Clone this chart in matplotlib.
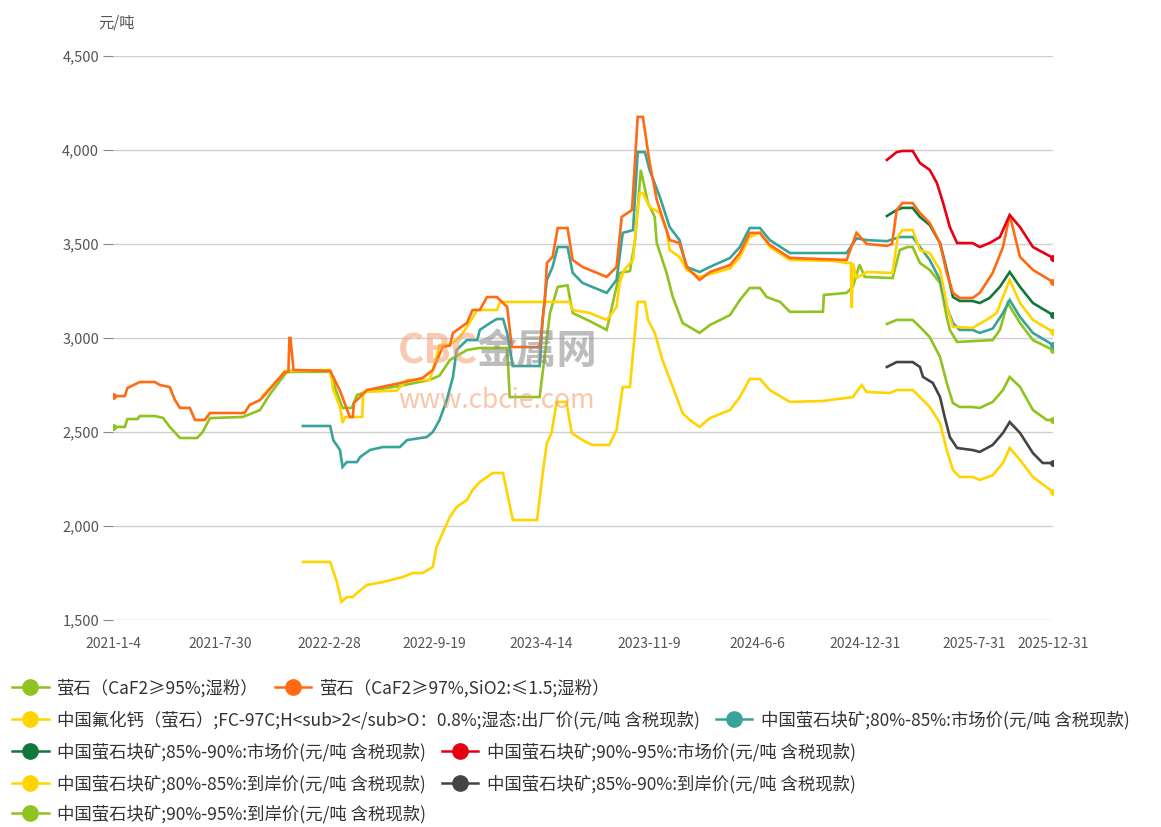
import matplotlib
matplotlib.use("Agg")
import matplotlib.pyplot as plt
from matplotlib.lines import Line2D
import pandas as pd

plt.rcParams['font.family'] = ['Noto Sans CJK SC', 'DejaVu Sans']

# ---- data ----
s1_dates = ['2021-01-04', '2021-01-27', '2021-02-01', '2021-02-21', '2021-02-25', '2021-03-26', '2021-04-11',
            '2021-04-24', '2021-05-14', '2021-06-16', '2021-06-27', '2021-07-11', '2021-09-13', '2021-10-16',
            '2021-11-04', '2021-11-23', '2021-12-07', '2022-03-01', '2022-03-14', '2022-03-25', '2022-04-12',
            '2022-04-22', '2022-05-17', '2022-07-14', '2022-09-10', '2022-09-29', '2022-10-19', '2022-11-21',
            '2022-12-16', '2023-02-07', '2023-02-12', '2023-04-11', '2023-05-01', '2023-05-16', '2023-06-04',
            '2023-06-14', '2023-07-17', '2023-08-19', '2023-09-13', '2023-10-03', '2023-10-13', '2023-10-24',
            '2023-11-07', '2023-11-20', '2023-11-24', '2023-12-13', '2023-12-25', '2024-01-13', '2024-02-15',
            '2024-03-06', '2024-04-14', '2024-05-03', '2024-05-22', '2024-06-11', '2024-06-24', '2024-07-20',
            '2024-08-08', '2024-10-11', '2024-10-13', '2024-11-26', '2024-12-08', '2024-12-21', '2024-12-31',
            '2025-02-23', '2025-03-09', '2025-03-24', '2025-04-03', '2025-04-17', '2025-05-06', '2025-05-26',
            '2025-06-08', '2025-06-14', '2025-06-28', '2025-09-05', '2025-09-19', '2025-10-04', '2025-10-28',
            '2025-11-22', '2025-12-31']
s1_vals = [2527, 2527, 2569, 2569, 2585, 2585, 2575, 2527, 2468, 2468, 2500, 2574, 2580, 2617, 2700, 2770,
           2820, 2820, 2707, 2628, 2628, 2697, 2720, 2745, 2777, 2800, 2883, 2936, 2947, 2947, 2686, 2686,
           3133, 3272, 3280, 3133, 3090, 3043, 3346, 3356, 3521, 3894, 3718, 3644, 3505, 3346, 3218, 3080,
           3027, 3069, 3122, 3202, 3266, 3266, 3218, 3192, 3139, 3140, 3229, 3240, 3272, 3390, 3325, 3319,
           3468, 3484, 3484, 3399, 3362, 3293, 3112, 3043, 2979, 2989, 3043, 3186, 3080, 2989, 2936]

s2_dates = ['2021-01-04', '2021-01-27', '2021-02-01', '2021-02-25', '2021-03-26', '2021-04-05', '2021-04-24',
            '2021-05-04', '2021-05-14', '2021-06-02', '2021-06-12', '2021-07-01', '2021-07-11', '2021-09-16',
            '2021-09-26', '2021-10-16', '2021-10-26', '2021-11-14', '2021-12-03', '2021-12-10', '2021-12-12',
            '2021-12-14', '2021-12-20', '2022-03-01', '2022-03-20', '2022-04-08', '2022-04-14', '2022-04-16',
            '2022-05-11', '2022-07-14', '2022-08-27', '2022-09-16', '2022-10-05', '2022-10-19', '2022-10-25',
            '2022-11-21', '2022-12-02', '2022-12-16', '2022-12-30', '2023-01-18', '2023-02-07', '2023-02-16',
            '2023-04-11', '2023-04-21', '2023-04-25', '2023-05-06', '2023-05-16', '2023-06-04', '2023-06-14',
            '2023-07-03', '2023-08-19', '2023-09-07', '2023-09-17', '2023-10-07', '2023-10-18', '2023-10-28',
            '2023-11-10', '2023-11-24', '2023-12-19', '2024-01-07', '2024-01-21', '2024-02-15', '2024-03-06',
            '2024-04-14', '2024-05-03', '2024-05-22', '2024-06-11', '2024-06-30', '2024-08-08', '2024-11-26',
            '2024-12-15', '2025-01-04', '2025-02-12', '2025-02-22', '2025-03-03', '2025-03-14', '2025-04-03',
            '2025-04-17', '2025-05-06', '2025-05-26', '2025-06-08', '2025-06-20', '2025-07-03', '2025-07-28',
            '2025-08-11', '2025-09-05', '2025-09-25', '2025-10-08', '2025-10-28', '2025-11-22', '2025-12-31']
s2_vals = [2691, 2691, 2734, 2766, 2766, 2750, 2739, 2670, 2628, 2628, 2564, 2564, 2601, 2601, 2644, 2670,
           2700, 2761, 2819, 2819, 3000, 3000, 2830, 2825, 2720, 2580, 2580, 2654, 2723, 2760, 2787, 2830,
           2952, 2960, 3027, 3080, 3149, 3149, 3218, 3218, 3165, 2952, 2952, 3200, 3399, 3431, 3585, 3585,
           3415, 3378, 3325, 3378, 3644, 3681, 4176, 4176, 3936, 3734, 3521, 3505, 3378, 3309, 3351, 3388,
           3452, 3559, 3559, 3495, 3426, 3415, 3559, 3500, 3490, 3500, 3681, 3718, 3718, 3665, 3612, 3505,
           3346, 3240, 3213, 3213, 3240, 3346, 3484, 3654, 3431, 3362, 3298]

s3_dates = ['2021-10-20', '2021-11-14', '2021-12-03', '2022-03-01', '2022-03-07', '2022-03-20', '2022-03-25',
            '2022-03-30', '2022-05-02', '2022-05-04', '2022-07-08', '2022-07-28', '2022-09-10', '2022-09-16',
            '2022-09-29', '2022-10-19', '2022-11-07', '2022-11-21', '2022-12-11', '2023-01-18', '2023-01-24',
            '2023-06-08', '2023-06-14', '2023-07-17', '2023-08-19', '2023-09-07', '2023-09-13', '2023-09-22',
            '2023-10-09', '2023-10-16', '2023-10-22', '2023-10-28', '2023-11-10', '2023-11-30', '2023-12-13',
            '2023-12-19', '2024-01-07', '2024-01-21', '2024-02-15', '2024-03-06', '2024-04-14', '2024-05-03',
            '2024-05-22', '2024-06-11', '2024-06-30', '2024-08-08', '2024-10-31', '2024-11-26', '2024-12-04',
            '2024-12-06', '2024-12-08', '2024-12-15', '2025-01-04', '2025-02-23', '2025-03-05', '2025-03-14',
            '2025-04-03', '2025-04-17', '2025-05-06', '2025-05-26', '2025-06-10', '2025-06-20', '2025-07-28',
            '2025-08-24', '2025-09-13', '2025-09-25', '2025-10-08', '2025-10-28', '2025-11-22', '2025-12-31']
s3_vals = [2690, 2760, 2825, 2830, 2723, 2633, 2548, 2580, 2580, 2713, 2720, 2777, 2777, 2830, 2963, 2963,
           3005, 3059, 3149, 3149, 3192, 3192, 3149, 3133, 3096, 3165, 3293, 3362, 3415, 3628, 3771, 3771,
           3697, 3665, 3574, 3468, 3431, 3362, 3325, 3340, 3370, 3430, 3537, 3560, 3484, 3415, 3410, 3399,
           3399, 3160, 3399, 3319, 3351, 3346, 3537, 3574, 3574, 3468, 3452, 3362, 3149, 3059, 3054, 3096,
           3133, 3218, 3309, 3186, 3096, 3032]

s4_dates = ['2022-01-07', '2022-03-01', '2022-03-07', '2022-03-20', '2022-03-25', '2022-04-02', '2022-04-22',
            '2022-04-28', '2022-05-17', '2022-06-11', '2022-07-14', '2022-07-28', '2022-09-04', '2022-09-16',
            '2022-09-29', '2022-10-13', '2022-10-25', '2022-11-01', '2022-11-21', '2022-12-11', '2022-12-16',
            '2023-01-05', '2023-01-18', '2023-01-30', '2023-02-07', '2023-02-18', '2023-04-11', '2023-04-17',
            '2023-04-25', '2023-05-06', '2023-05-16', '2023-06-04', '2023-06-14', '2023-07-03', '2023-08-19',
            '2023-09-07', '2023-09-19', '2023-10-09', '2023-10-18', '2023-11-01', '2023-11-10', '2023-11-30',
            '2023-12-19', '2024-01-07', '2024-01-21', '2024-02-15', '2024-03-06', '2024-04-14', '2024-05-03',
            '2024-05-22', '2024-06-11', '2024-06-30', '2024-08-08', '2024-11-26', '2024-12-15', '2025-01-04',
            '2025-02-12', '2025-03-09', '2025-04-03', '2025-04-17', '2025-05-06', '2025-05-26', '2025-06-08',
            '2025-06-20', '2025-07-03', '2025-07-28', '2025-08-11', '2025-09-05', '2025-09-25', '2025-10-08',
            '2025-10-28', '2025-11-22', '2025-12-31']
s4_vals = [2532, 2532, 2457, 2404, 2314, 2340, 2340, 2367, 2404, 2420, 2420, 2457, 2473, 2500, 2564, 2670,
           2793, 2936, 2989, 2989, 3043, 3080, 3101, 3101, 3027, 2851, 2851, 3112, 3309, 3378, 3484, 3484,
           3346, 3293, 3240, 3309, 3559, 3574, 3989, 3989, 3894, 3750, 3590, 3521, 3378, 3351, 3378, 3426,
           3484, 3585, 3585, 3521, 3452, 3452, 3530, 3521, 3515, 3537, 3537, 3484, 3415, 3309, 3165, 3080,
           3043, 3043, 3027, 3050, 3133, 3202, 3112, 3027, 2963]

s5_dates = ['2025-02-12', '2025-03-03', '2025-03-14', '2025-04-03', '2025-04-17', '2025-05-06', '2025-05-26',
            '2025-06-08', '2025-06-20', '2025-07-03', '2025-07-28', '2025-08-11', '2025-08-30', '2025-09-19',
            '2025-10-08', '2025-10-28', '2025-11-22', '2025-12-31']
s5_vals = [3649, 3681, 3692, 3692, 3644, 3601, 3505, 3362, 3218, 3197, 3197, 3186, 3213, 3272, 3351, 3272,
           3186, 3122]

s6_dates = ['2025-02-12', '2025-03-03', '2025-03-14', '2025-04-03', '2025-04-17', '2025-05-06', '2025-05-20',
            '2025-06-01', '2025-06-14', '2025-06-28', '2025-07-28', '2025-08-11', '2025-08-30', '2025-09-19',
            '2025-10-08', '2025-10-28', '2025-11-22', '2025-12-31']
s6_vals = [3947, 3989, 3995, 3995, 3931, 3894, 3824, 3718, 3590, 3505, 3505, 3484, 3505, 3537, 3654, 3590,
           3484, 3426]

s7_dates = ['2022-01-07', '2022-03-01', '2022-03-14', '2022-03-23', '2022-04-02', '2022-04-14', '2022-04-22',
            '2022-05-11', '2022-06-11', '2022-07-20', '2022-08-08', '2022-08-27', '2022-09-16', '2022-09-23',
            '2022-10-05', '2022-10-19', '2022-11-01', '2022-11-21', '2022-12-02', '2022-12-16', '2023-01-10',
            '2023-01-30', '2023-02-07', '2023-02-18', '2023-04-06', '2023-04-17', '2023-04-25', '2023-05-04',
            '2023-05-14', '2023-06-02', '2023-06-12', '2023-07-03', '2023-07-22', '2023-08-24', '2023-09-07',
            '2023-09-19', '2023-10-03', '2023-10-18', '2023-11-01', '2023-11-07', '2023-11-20', '2023-12-05',
            '2023-12-25', '2024-01-13', '2024-01-27', '2024-02-15', '2024-03-06', '2024-04-14', '2024-05-03',
            '2024-05-22', '2024-06-11', '2024-06-30', '2024-08-08', '2024-10-11', '2024-12-08', '2024-12-25',
            '2025-01-04', '2025-02-18', '2025-03-03', '2025-04-03', '2025-04-17', '2025-05-06', '2025-05-26',
            '2025-06-08', '2025-06-20', '2025-07-03', '2025-07-28', '2025-08-11', '2025-09-05', '2025-09-25',
            '2025-10-08', '2025-10-28', '2025-11-22', '2025-12-31']
s7_vals = [1809, 1809, 1702, 1596, 1622, 1622, 1644, 1686, 1702, 1729, 1750, 1750, 1782, 1888, 1963, 2048,
           2101, 2138, 2192, 2234, 2282, 2282, 2176, 2032, 2032, 2282, 2441, 2495, 2660, 2660, 2495, 2457,
           2431, 2431, 2511, 2739, 2739, 3192, 3192, 3096, 3027, 2883, 2739, 2601, 2564, 2527, 2574, 2617,
           2686, 2782, 2782, 2723, 2660, 2665, 2686, 2750, 2713, 2707, 2723, 2723, 2686, 2633, 2548, 2404,
           2298, 2261, 2261, 2245, 2270, 2335, 2415, 2351, 2261, 2181]

s8_dates = ['2025-02-12', '2025-03-03', '2025-04-03', '2025-04-17', '2025-04-23', '2025-05-12', '2025-05-26',
            '2025-06-04', '2025-06-14', '2025-06-28', '2025-07-28', '2025-08-11', '2025-09-05', '2025-09-25',
            '2025-10-08', '2025-10-28', '2025-11-22', '2025-12-11', '2025-12-31']
s8_vals = [2846, 2872, 2872, 2846, 2793, 2761, 2686, 2580, 2473, 2415, 2404, 2394, 2431, 2495, 2553, 2495,
           2388, 2335, 2335]

s9_dates = ['2025-02-12', '2025-03-03', '2025-04-03', '2025-04-17', '2025-05-06', '2025-05-26', '2025-06-08',
            '2025-06-20', '2025-07-03', '2025-07-28', '2025-08-11', '2025-09-05', '2025-09-25', '2025-10-08',
            '2025-10-28', '2025-11-22', '2025-12-19', '2025-12-31']
s9_vals = [3075, 3096, 3096, 3059, 3005, 2899, 2761, 2654, 2633, 2633, 2628, 2660, 2723, 2793, 2740, 2617,
           2564, 2564]

names = ['萤石（CaF2≥95%;湿粉）',
         '萤石（CaF2≥97%,SiO2:≤1.5;湿粉）',
         '中国氟化钙（萤石）;FC-97C;H<sub>2</sub>O：0.8%;湿态:出厂价(元/吨 含税现款)',
         '中国萤石块矿;80%-85%:市场价(元/吨 含税现款)',
         '中国萤石块矿;85%-90%:市场价(元/吨 含税现款)',
         '中国萤石块矿;90%-95%:市场价(元/吨 含税现款)',
         '中国萤石块矿;80%-85%:到岸价(元/吨 含税现款)',
         '中国萤石块矿;85%-90%:到岸价(元/吨 含税现款)',
         '中国萤石块矿;90%-95%:到岸价(元/吨 含税现款)']
colors = ['#8fc31f', '#ff6a13', '#ffd400', '#38a39b', '#11773a', '#e60012', '#ffd400', '#444444', '#8fc31f']

tick_dates = ['2021-01-04', '2021-07-30', '2022-02-28', '2022-09-19', '2023-04-14',
              '2023-11-09', '2024-06-06', '2024-12-31', '2025-07-31', '2025-12-31']
tick_labels = ['2021-1-4', '2021-7-30', '2022-2-28', '2022-9-19', '2023-4-14',
               '2023-11-9', '2024-6-6', '2024-12-31', '2025-7-31', '2025-12-31']

series = [(s1_dates, s1_vals), (s2_dates, s2_vals), (s3_dates, s3_vals), (s4_dates, s4_vals),
          (s5_dates, s5_vals), (s6_dates, s6_vals), (s7_dates, s7_vals), (s8_dates, s8_vals),
          (s9_dates, s9_vals)]

fig = plt.figure(figsize=(11.61, 8.27), dpi=100)
ax = fig.add_axes([0.0973, 0.2503, 0.8097, 0.682])

# watermark
fig.text(0.343, 0.561, 'CBC', fontsize=29, fontweight='bold', color='#f5a070', alpha=0.55)
fig.text(0.410, 0.561, '金属网', fontsize=29, fontweight='bold', color='#888888', alpha=0.55)
fig.text(0.343, 0.507, 'www.cbcie.com', fontsize=19, color='#f5a070', alpha=0.6)

# draw order: put later series on top like the original
order = [6, 8, 7, 0, 3, 2, 4, 1, 5]
for i in order:
    d, v = series[i]
    x = pd.to_datetime(d)
    mk = [0, len(v) - 1] if i in (0, 1) else [len(v) - 1]
    ax.plot(x, v, color=colors[i], lw=1.9, marker='o', markersize=4, markevery=mk,
            solid_joinstyle='miter')

ax.set_ylim(1500, 4500)
ax.set_xlim(pd.Timestamp('2021-01-04'), pd.Timestamp('2025-12-31'))
ax.set_yticks([1500, 2000, 2500, 3000, 3500, 4000, 4500])
ax.set_yticklabels(['1,500', '2,000', '2,500', '3,000', '3,500', '4,000', '4,500'])
ax.set_xticks(pd.to_datetime(tick_dates))
ax.set_xticklabels(tick_labels)
ax.grid(axis='y', color='#d0d0d0', lw=1)
ax.set_axisbelow(True)
for s in ax.spines.values():
    s.set_visible(False)
ax.tick_params(axis='y', length=7, color='#888888', labelcolor='#555555', labelsize=10.5, pad=3)
ax.tick_params(axis='x', length=0, labelcolor='#555555', labelsize=10, pad=12)

fig.text(0.085, 0.972, '元/吨', fontsize=11, color='#555555', va='center')

# legend rows (flow layout like the original)
rows = [[0, 1], [2, 3], [4, 5], [6, 7], [8]]
row_y = [688, 720, 752, 784, 814]
for r, yy in zip(rows, row_y):
    handles = [Line2D([0], [0], color=colors[i], lw=1.8, marker='o', markersize=11) for i in r]
    fig.legend(handles, [names[i] for i in r], loc='center left',
               bbox_to_anchor=(0.003, 1 - yy / 827), ncol=len(r), frameon=False,
               fontsize=12.5, handlelength=2.1, handletextpad=0.5, columnspacing=0.9,
               borderpad=0, labelcolor='#333333')

fig.savefig('out.png', dpi=100)
